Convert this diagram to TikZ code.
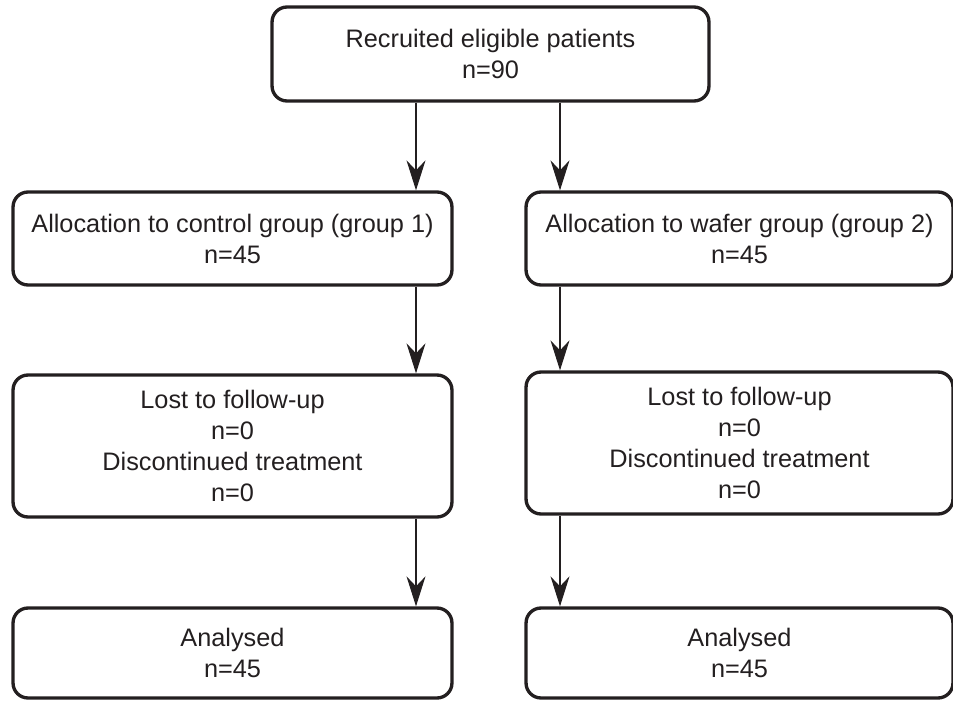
\documentclass[tikz,border=0pt]{standalone}
\usepackage{fontspec}
\setmainfont{Liberation Sans}
\usetikzlibrary{arrows.meta}
\definecolor{ink}{HTML}{231F20}

\begin{document}
\begin{tikzpicture}[x=0.02cm,y=-0.02cm,
  box/.style={draw=ink,line width=1.9pt,rounded corners=0.3cm,align=center,text=ink,
    font=\fontsize{14.4}{17.6}\selectfont,inner sep=0pt},
  arr/.style={draw=ink,line width=0.6pt,-{Stealth[length=0.6cm,width=0.38cm,inset=0.2cm]}}]
\useasboundingbox (0,0) rectangle (953,700);
\node[box,minimum width=8.74cm,minimum height=1.88cm] (recruit) at (490.5,54) {Recruited eligible patients\\n=90};
\node[box,minimum width=8.78cm,minimum height=1.86cm] (ctrl) at (232.5,238.5) {Allocation to control group (group 1)\\n=45};
\node[box,minimum width=8.54cm,minimum height=1.86cm] (wafer) at (739.5,238.5) {Allocation to wafer group (group 2)\\n=45};
\node[box,minimum width=8.78cm,minimum height=2.84cm] (lostctrl) at (232.5,446) {Lost to follow-up\\n=0\\Discontinued treatment\\n=0};
\node[box,minimum width=8.54cm,minimum height=2.84cm] (lostwafer) at (739.5,443) {Lost to follow-up\\n=0\\Discontinued treatment\\n=0};
\node[box,minimum width=8.78cm,minimum height=1.8cm] (anactrl) at (232.5,653) {Analysed\\n=45};
\node[box,minimum width=8.54cm,minimum height=1.8cm] (anawafer) at (739.5,653) {Analysed\\n=45};
\coordinate (lcol) at (416,0);
\coordinate (rcol) at (560,0);
\draw[arr] (recruit.south -| lcol) -- (ctrl.north -| lcol);
\draw[arr] (recruit.south -| rcol) -- (wafer.north -| rcol);
\draw[arr] (ctrl.south -| lcol) -- (lostctrl.north -| lcol);
\draw[arr] (wafer.south -| rcol) -- (lostwafer.north -| rcol);
\draw[arr] (lostctrl.south -| lcol) -- (anactrl.north -| lcol);
\draw[arr] (lostwafer.south -| rcol) -- (anawafer.north -| rcol);
\end{tikzpicture}
\end{document}
